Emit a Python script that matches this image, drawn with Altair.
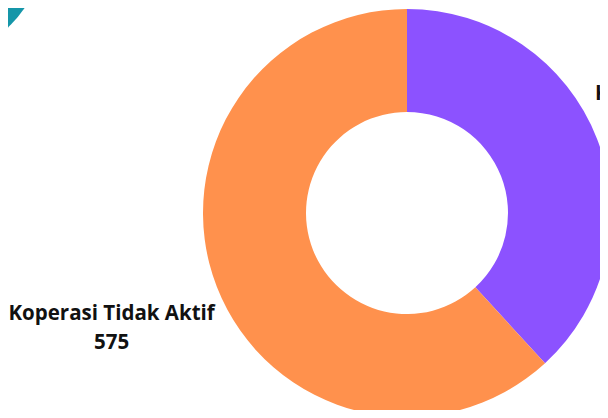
import altair as alt
import pandas as pd

categories = ["Koperasi Aktif", "Koperasi Tidak Aktif"]
values = [355, 575]
colors = ["#8C52FF", "#FF914D"]
order = [0, 1]

df = pd.DataFrame({"kategori": categories, "jumlah": values, "urutan": order})
df["label"] = df["kategori"] + "\n" + df["jumlah"].astype(str)

arc = alt.Chart(df).mark_arc(outerRadius=204, innerRadius=101).encode(
    theta=alt.Theta("jumlah:Q", stack=True),
    order=alt.Order("urutan:Q"),
    color=alt.Color("kategori:N", scale=alt.Scale(domain=categories, range=colors), legend=None),
)

labels = alt.Chart(df).transform_window(
    cum="sum(jumlah)", sort=[alt.SortField("urutan")]
).transform_calculate(mid="datum.cum - datum.jumlah / 2")

text_style = dict(font="Open Sans", fontSize=20.5, fontWeight="bold", lineHeight=29,
                  lineBreak="\n", color="#111111", align="center", baseline="middle")

text_left = labels.transform_filter(alt.datum.kategori == "Koperasi Tidak Aktif").mark_text(
    radius=317, dy=-14, **text_style).encode(theta=alt.Theta("mid:Q", stack=None), text="label:N")
text_right = labels.transform_filter(alt.datum.kategori == "Koperasi Aktif").mark_text(
    radius=317, dx=-35, dy=-4, **text_style).encode(theta=alt.Theta("mid:Q", stack=None), text="label:N")

deco = alt.Chart(pd.DataFrame({"k": [0]})).mark_arc(
    outerRadius=117, innerRadius=0, theta=0, theta2=6.2832, color="#1596a9"
).encode(x=alt.value(-286), y=alt.value(-74))

chart = alt.layer(deco, arc, text_left, text_right).properties(
    width=386, height=394,
    padding={"left": 206, "top": 8, "right": 0, "bottom": 0},
    autosize="none",
).configure_view(stroke=None)

chart.save("out.html", embed_options={"renderer": "svg", "actions": False})
